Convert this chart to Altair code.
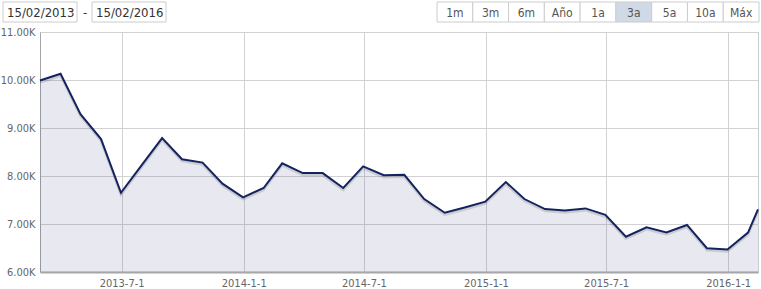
import altair as alt
import pandas as pd

# ---- data ----
dates = [
    "2013-02-28", "2013-03-31", "2013-04-30", "2013-05-31", "2013-06-30", "2013-07-31",
    "2013-08-31", "2013-09-30", "2013-10-31", "2013-11-30", "2013-12-31",
    "2014-01-31", "2014-02-28", "2014-03-31", "2014-04-30", "2014-05-31", "2014-06-30",
    "2014-07-31", "2014-08-31", "2014-09-30", "2014-10-31", "2014-11-30", "2014-12-31",
    "2015-01-31", "2015-02-28", "2015-03-31", "2015-04-30", "2015-05-31", "2015-06-30",
    "2015-07-31", "2015-08-31", "2015-09-30", "2015-10-31", "2015-11-30", "2015-12-31",
    "2016-01-31", "2016-02-15",
]
values = [
    9990, 10130, 9290, 8770, 7650, 8220,
    8790, 8350, 8280, 7840, 7555,
    7750, 8265, 8060, 8060, 7750, 8200,
    8015, 8025, 7520, 7235, 7345, 7465,
    7875, 7520, 7310, 7280, 7325, 7190,
    6735, 6930, 6825, 6980, 6495, 6470,
    6820, 7305,
]
x_ticks = ["2013-07-01", "2014-01-01", "2014-07-01", "2015-01-01", "2015-07-01", "2016-01-01"]
x_domain = ["2013-02-28", "2016-02-15"]
y_ticks = [6000, 7000, 8000, 9000, 10000, 11000]
range_start = "15/02/2013"
range_end = "15/02/2016"
buttons = ["1m", "3m", "6m", "Año", "1a", "3a", "5a", "10a", "Máx"]
selected_button = "3a"

FONT = "DejaVu Sans Condensed"

df = pd.DataFrame({"date": dates, "value": values})

def to_dt(s):
    y, m, d = (int(p) for p in s.split("-"))
    return alt.DateTime(year=y, month=m, date=d, utc=True)

x_enc = alt.X(
    "date:T",
    scale=alt.Scale(type="utc", domain=[to_dt(d) for d in x_domain]),
    axis=alt.Axis(
        values=[to_dt(d) for d in x_ticks],
        labelExpr="utcFormat(datum.value, '%Y-%-m-%-d')",
        title=None,
        grid=True,
        gridColor="#d2d2d2",
        ticks=False,
        labelPadding=5,
        labelFont=FONT,
        labelFontSize=11,
        labelColor="#666666",
        domainColor="#a6a6a6",
        domainWidth=2,
    ),
)
y_enc = alt.Y(
    "value:Q",
    scale=alt.Scale(domain=[6000, 11000], zero=False, nice=False),
    axis=alt.Axis(
        values=y_ticks,
        labelExpr="format(datum.value / 1000, '.2f') + 'K'",
        title=None,
        grid=True,
        gridColor="#d2d2d2",
        ticks=False,
        labelPadding=5,
        labelFont=FONT,
        labelFontSize=11,
        labelColor="#666666",
        domainColor="#a6a6a6",
        domainWidth=1,
    ),
)

base = alt.Chart(df)
area = base.mark_area(color="#2d3a7a", opacity=0.11).encode(
    x=x_enc, y=y_enc, y2=alt.datum(6000)
)
shadow = base.mark_line(color="#000000", opacity=0.13, strokeWidth=2.5, yOffset=2).encode(
    x="date:T", y="value:Q"
)
line = base.mark_line(color="#14235f", strokeWidth=2).encode(x="date:T", y="value:Q")
main = alt.layer(area, shadow, line)

# ---- header: date range boxes ----
def date_box(label, x0, x1):
    d = alt.Chart(pd.DataFrame({"t": [label]}))
    rect = d.mark_rect(fill="white", stroke="#cccccc", strokeWidth=1).encode(
        x=alt.value(x0), x2=alt.value(x1), y=alt.value(-30), y2=alt.value(-10)
    )
    txt = d.mark_text(align="left", baseline="middle", font=FONT, fontSize=13, color="#333333").encode(
        x=alt.value(x0 + 4), y=alt.value(-19.5), text="t:N"
    )
    return rect + txt

box1 = date_box(range_start, -37, 37)
box2 = date_box(range_end, 52, 126)
dash = alt.Chart(pd.DataFrame({"t": ["-"]})).mark_text(
    align="center", baseline="middle", font=FONT, fontSize=13, color="#333333"
).encode(x=alt.value(45), y=alt.value(-19.5), text="t:N")

# ---- header: range buttons ----
bdf = pd.DataFrame({"label": buttons})
bdf["i"] = range(len(buttons))
bdf["j"] = bdf["i"] + 1
bdf["c"] = bdf["i"] + 0.5
bdf["sel"] = bdf["label"] == selected_button
bx = alt.Scale(domain=[0, len(buttons)], range=[397, 719])
bchart = alt.Chart(bdf)
brect = bchart.mark_rect(stroke="#cccccc", strokeWidth=1).encode(
    x=alt.X("i:Q", scale=bx, axis=None),
    x2="j:Q",
    y=alt.value(-30),
    y2=alt.value(-10),
    fill=alt.condition("datum.sel", alt.value("#cfdae6"), alt.value("#ffffff")),
)
btext = bchart.mark_text(baseline="middle", font=FONT, fontSize=12, color="#555555").encode(
    x=alt.X("c:Q", scale=bx, axis=None),
    y=alt.value(-19.5),
    text="label:N",
)
btns = alt.layer(brect, btext)

chart = (
    alt.layer(main, box1, box2, dash, btns)
    .resolve_scale(x="independent", y="independent")
    .properties(
        width=718,
        height=240,
        padding={"left": 40, "top": 32, "right": 3, "bottom": 17},
        autosize=alt.AutoSizeParams(type="none"),
        background="white",
    )
    .configure_view(stroke="#cccccc")
)

chart.save("out.html", embed_options={"renderer": "svg", "actions": False})
